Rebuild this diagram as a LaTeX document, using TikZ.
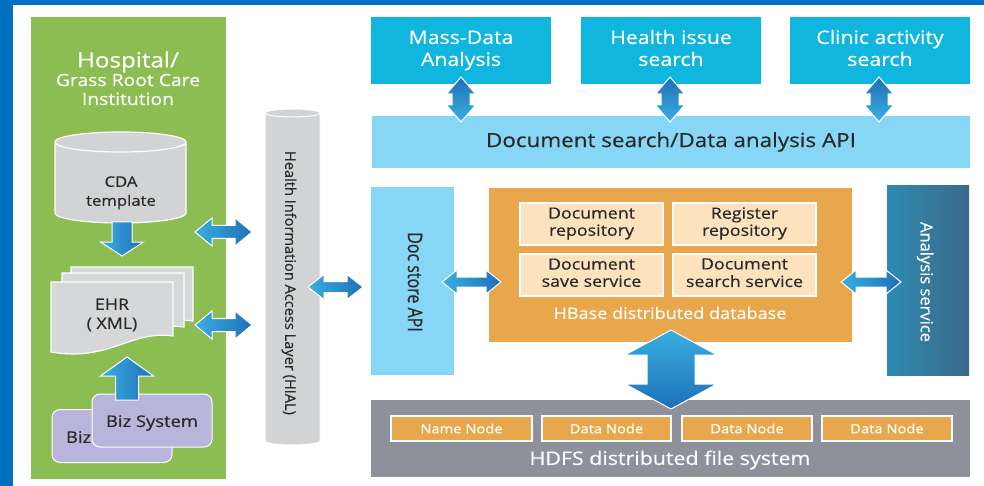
\documentclass[tikz,border=0pt]{standalone}
\usepackage{fontspec}
\setmainfont{Open Sans}[FakeStretch=1.15,FakeBold=0.4]
\newfontfamily\plainsans{Open Sans}[FakeBold=0.4]
\newfontfamily\narrowsans{Open Sans}[FakeStretch=0.8,FakeBold=0.4]
\usetikzlibrary{calc}

\definecolor{borderblue}{RGB}{0,112,192}
\definecolor{hospgreen}{RGB}{140,189,82}
\definecolor{cylgray}{RGB}{209,211,212}
\definecolor{pagegray}{RGB}{214,215,217}
\definecolor{bizlav}{RGB}{184,180,218}
\definecolor{cyanbox}{RGB}{16,182,222}
\definecolor{apiblue}{RGB}{136,214,246}
\definecolor{hbaseorange}{RGB}{232,167,76}
\definecolor{cream}{RGB}{253,227,189}
\definecolor{hdfsgray}{RGB}{142,145,153}
\definecolor{analysisL}{RGB}{46,138,176}
\definecolor{analysisR}{RGB}{59,106,139}
\definecolor{arrlight}{RGB}{58,175,224}
\definecolor{arrdark}{RGB}{30,112,183}
\definecolor{textdark}{RGB}{40,40,40}

% horizontal double arrow between two points on the same level
\newcommand\arrowhorizpair[5]{%
  \path[arrowbody,left color=arrlight,right color=arrdark] let \p1=(#1), \p2=(#2) in
    (\x1,\y1) -- (\x1+#5pt,\y1+#3pt) -- (\x1+#5pt,\y1+#4pt) -- (\x2-#5pt,\y1+#4pt)
    -- (\x2-#5pt,\y1+#3pt) -- (\x2,\y1) -- (\x2-#5pt,\y1-#3pt) -- (\x2-#5pt,\y1-#4pt)
    -- (\x1+#5pt,\y1-#4pt) -- (\x1+#5pt,\y1-#3pt) -- cycle;}
% vertical double arrow, first point on top
\newcommand\arrowvertpair[6]{%
  \path[arrowbody,#6] let \p1=(#1), \p2=(#2) in
    (\x1,\y1) -- (\x1+#3pt,\y1-#5pt) -- (\x1+#4pt,\y1-#5pt) -- (\x1+#4pt,\y2+#5pt)
    -- (\x1+#3pt,\y2+#5pt) -- (\x1,\y2) -- (\x1-#3pt,\y2+#5pt) -- (\x1-#4pt,\y2+#5pt)
    -- (\x1-#4pt,\y1-#5pt) -- (\x1-#3pt,\y1-#5pt) -- cycle;}
% single arrow pointing down: tail, tip
\newcommand\arrowdownshape[5]{%
  \path[arrowbody,left color=arrlight,right color=arrdark] let \p1=(#1), \p2=(#2) in
    (\x1-#4pt,\y1) -- (\x1+#4pt,\y1) -- (\x1+#4pt,\y2+#5pt) -- (\x1+#3pt,\y2+#5pt)
    -- (\x1,\y2) -- (\x1-#3pt,\y2+#5pt) -- (\x1-#4pt,\y2+#5pt) -- cycle;}
% single arrow pointing up: tail, tip
\newcommand\arrowupshape[5]{%
  \path[arrowbody,left color=arrlight,right color=arrdark] let \p1=(#1), \p2=(#2) in
    (\x1-#4pt,\y1) -- (\x1+#4pt,\y1) -- (\x1+#4pt,\y2-#5pt) -- (\x1+#3pt,\y2-#5pt)
    -- (\x1,\y2) -- (\x1-#3pt,\y2-#5pt) -- (\x1-#4pt,\y2-#5pt) -- cycle;}
% one sheet of the EHR stack
\newcommand\ehrsheet{%
  \path[fill=pagegray,draw=white,line width=1.2pt]
    (51,282) -- (173,282) -- (173,336)
    .. controls (130,330) and (110,362) .. (51,352) -- cycle;}

\begin{document}
\begin{tikzpicture}[x=1pt,y=-1pt,
  arrowbody/.style={draw=white,line width=1pt},
  box/.style={inner sep=0pt,outer sep=0pt,align=center},
  cell/.style={box,fill=cream,draw=white,line width=1.3pt,text=textdark,
    minimum width=143pt,minimum height=42pt,font=\fontsize{15.5}{16}\selectfont},
  hnode/.style={box,fill=hbaseorange,draw=white,line width=1.3pt,text=white,
    minimum height=25pt,font=\fontsize{12.8}{14}\selectfont},
  topbox/.style={box,fill=cyanbox,text=white,minimum width=180pt,minimum height=67pt,
    font=\fontsize{18.5}{22}\selectfont},
  bizbox/.style={box,fill=bizlav,draw=white,line width=1pt,rounded corners=8pt,
    minimum width=120pt,minimum height=53pt}]
\useasboundingbox (0,0) rectangle (984,486);
\fill[white] (0,0) rectangle (984,486);
% frame
\fill[borderblue] (0,0) rectangle (13,486);
\fill[borderblue] (0,0) rectangle (984,5);

% hospital side
\node[box,fill=hospgreen,minimum width=195pt,minimum height=462pt] (hosp) at (128.5,248) {};
\node[box,text=white,font=\fontsize{21}{22}\selectfont] (hosptitle) at (128,62) {Hospital/};
\node[box,text=white,font=\fontsize{16.8}{19}\selectfont] (hospsub) at (128,89.5) {Grass Root Care\\Institution};

% CDA template store
\path[fill=cylgray,draw=white,line width=1.2pt]
  (55,142) -- (55,213) arc[start angle=180,end angle=360,x radius=65.5pt,y radius=10pt]
  -- (186,142) arc[start angle=0,end angle=180,x radius=65.5pt,y radius=10pt] -- cycle;
\draw[white,line width=1.2pt] (55,142) arc[start angle=180,end angle=360,x radius=65.5pt,y radius=10pt];
\node[box,text=textdark,font=\fontsize{14.5}{19}\selectfont] (cda) at (121,192.5) {\strut CDA\\\strut template};

% EHR document stack
\begin{scope}[shift={(20,-15)}]\ehrsheet\end{scope}
\begin{scope}[shift={(11,-9)}]\ehrsheet\end{scope}
\ehrsheet
\node[box,text=textdark,font=\fontsize{15.5}{19}\selectfont] (ehr) at (112,315.5) {\strut EHR\\\strut ( XML)};

% business systems
\node[bizbox] (biz2) at (112,436) {};
\node[box,text=textdark,anchor=west,font=\fontsize{16}{18}\selectfont] (biz2lbl) at (66,437) {Biz};
\node[bizbox] (biz1) at (152,420.5) {};
\node[box,text=textdark,font=\fontsize{16}{18}\selectfont] (biz1lbl) at (152,423) {Biz System};

% HIAL column
\path[fill=cylgray,draw=white,line width=1pt]
  (265,113) -- (265,441) arc[start angle=180,end angle=360,x radius=27.5pt,y radius=4pt]
  -- (320,113) arc[start angle=0,end angle=180,x radius=27.5pt,y radius=4pt] -- cycle;
\draw[white,line width=1pt] (265,113) arc[start angle=180,end angle=360,x radius=27.5pt,y radius=4pt];
\node[box,rotate=-90,text=textdark,font=\plainsans\fontsize{14.6}{16}\selectfont] (hial) at (289,283)
  {Health Information Access Layer (HIAL)};

% application tier
\node[topbox] (mass) at (461,50.5) {\strut Mass-Data\\\strut Analysis};
\node[topbox] (health) at (671,50.5) {\strut Health issue\\\strut search};
\node[topbox] (clinic) at (880,50.5) {\strut Clinic activity\\\strut search};
\node[box,fill=apiblue,text=textdark,minimum width=598pt,minimum height=52pt,
  font=\fontsize{19.5}{22}\selectfont] (api) at (671,142) {Document search/Data analysis API};

% storage tier
\node[box,fill=apiblue,minimum width=83pt,minimum height=188pt] (docstore) at (412.5,281) {};
\node[box,rotate=-90,text=textdark,font=\narrowsans\fontsize{20}{22}\selectfont] (docstorelbl) at (415,282) {Doc store API};
\node[box,fill=hbaseorange,minimum width=363pt,minimum height=154pt] (hbase) at (670.5,265) {};
\node[cell] (docrepo) at (591.5,224) {\strut Document\\\strut repository};
\node[cell] (regrepo) at (744.5,224) {\strut Register\\\strut repository};
\node[cell] (docsave) at (591.5,275) {\strut Document\\\strut save service};
\node[cell] (docsearch) at (744.5,275) {\strut Document\\\strut search service};
\node[box,text=white,font=\fontsize{15.7}{18}\selectfont] (hbaselbl) at (670,313) {HBase distributed database};
\node[box,left color=analysisL,right color=analysisR,minimum width=82pt,minimum height=189pt] (analysis) at (928,280.5) {};
\node[box,rotate=-90,text=white,font=\plainsans\fontsize{16.5}{18}\selectfont] (analysislbl) at (925,282) {Analysis service};

% file system tier
\node[box,fill=hdfsgray,minimum width=599pt,minimum height=77pt] (hdfs) at (670.5,438.5) {};
\node[hnode,minimum width=141pt] (namenode) at (461.5,428.5) {Name Node};
\node[hnode,minimum width=129pt] (datanode1) at (606.5,428.5) {Data Node};
\node[hnode,minimum width=130pt] (datanode2) at (747,428.5) {Data Node};
\node[hnode,minimum width=130pt] (datanode3) at (887,428.5) {Data Node};
\node[box,text=white,font=\fontsize{18.6}{20}\selectfont] (hdfslbl) at (670,460) {HDFS distributed file system};

% arrow end points
\coordinate (cdaout) at (122,222);
\coordinate (ehrin) at (122,256);
\coordinate (bizout) at (127,400);
\coordinate (ehrbase) at (127,357);
\coordinate (hospA) at (195,232);
\coordinate (hialA) at (252,232);
\coordinate (hospB) at (195,325);
\coordinate (hialB) at (252,325);
\coordinate (hialC) at (308,287);
\coordinate (docstoreC) at (363,287);
\coordinate (docstoreD) at (442,282);
\coordinate (hbaseD) at (501,282);
\coordinate (hbaseE) at (841,282);
\coordinate (analysisE) at (901,282);
\coordinate (massbot) at (461,77);
\coordinate (apimass) at (461,122);
\coordinate (healthbot) at (670,77);
\coordinate (apihealth) at (670,122);
\coordinate (clinicbot) at (879,77);
\coordinate (apiclinic) at (879,122);
\coordinate (hbasebot) at (671,330);
\coordinate (hdfstop) at (671,409);

% connectors
\arrowdownshape{cdaout}{ehrin}{21.5}{10}{14}
\arrowupshape{bizout}{ehrbase}{26.5}{11.5}{19}
\arrowhorizpair{hospA}{hialA}{14}{6.5}{17}
\arrowhorizpair{hospB}{hialB}{14}{6.5}{17}
\arrowhorizpair{hialC}{docstoreC}{12.5}{5.5}{16}
\arrowhorizpair{docstoreD}{hbaseD}{12}{5}{15}
\arrowhorizpair{hbaseE}{analysisE}{12}{5}{15}
\arrowvertpair{massbot}{apimass}{14.5}{9}{17}{top color=arrdark,bottom color=arrlight}
\arrowvertpair{healthbot}{apihealth}{14.5}{9}{17}{top color=arrdark,bottom color=arrlight}
\arrowvertpair{clinicbot}{apiclinic}{14.5}{9}{17}{top color=arrdark,bottom color=arrlight}
\arrowvertpair{hbasebot}{hdfstop}{46}{24}{25}{top color=arrlight,bottom color=arrdark}
\end{tikzpicture}
\end{document}
